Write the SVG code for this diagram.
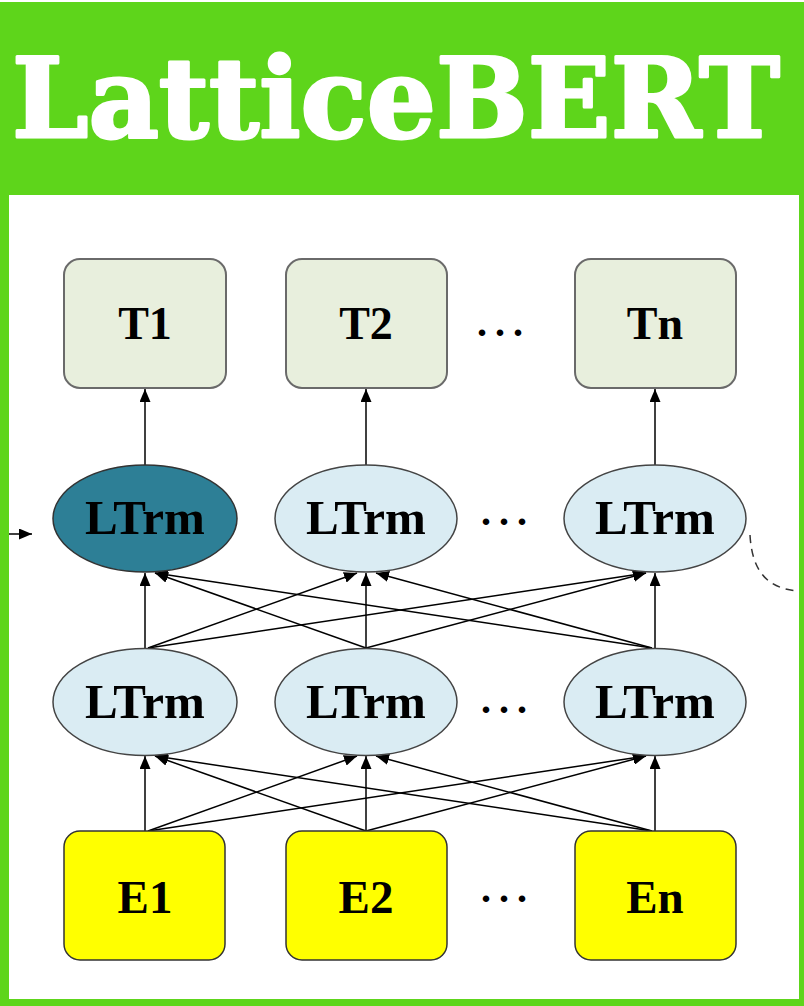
<svg xmlns="http://www.w3.org/2000/svg" width="804" height="1006" viewBox="0 0 804 1006">
<defs>
<marker id="ah" viewBox="0 0 13 11" refX="13" refY="5.5" markerWidth="13" markerHeight="11" markerUnits="userSpaceOnUse" orient="auto">
<path d="M0,0 L13,5.5 L0,11 Z" fill="#000"/>
</marker>
<style>
.lbl{font-family:"Liberation Serif","Times New Roman",serif;font-weight:bold;fill:#000;text-anchor:middle}
.tbox{fill:#E8EFDD;stroke:#6a6a6a;stroke-width:2}
.ebox{fill:#FFFF00;stroke:#333;stroke-width:1.5}
.ell{fill:#DAECF3;stroke:#444;stroke-width:1.5}
.dark{fill:#2D7F96;stroke:#333;stroke-width:1.5}
.edge{stroke:#000;stroke-width:1.5;fill:none;marker-end:url(#ah)}
.dots{font-family:"Liberation Serif",serif;font-weight:bold;font-size:40px;letter-spacing:8px;fill:#000;text-anchor:middle}
.title{font-family:"DejaVu Serif",serif;font-weight:bold;font-size:110px;fill:#fff;stroke:#fff;stroke-width:3;stroke-linejoin:round}
</style>
</defs>
<rect x="0" y="0" width="804" height="1006" fill="#fff"/>
<g id="frame">
<rect x="0" y="2" width="804" height="193" fill="#5ED51B"/>
<rect x="0" y="2" width="9" height="1004" fill="#5ED51B"/>
<rect x="799" y="2" width="5" height="1004" fill="#5ED51B"/>
<rect x="0" y="999" width="804" height="7" fill="#5ED51B"/>
<text class="title" x="12" y="137" textLength="768" lengthAdjust="spacingAndGlyphs">LatticeBERT</text>
</g>
<g id="connectors">
<line class="edge" x1="145" y1="465" x2="145" y2="389"/>
<line class="edge" x1="366" y1="465" x2="366" y2="389"/>
<line class="edge" x1="655" y1="465" x2="655" y2="389"/>
<line class="edge" x1="145" y1="648" x2="145" y2="573"/>
<line class="edge" x1="366" y1="648" x2="366" y2="573"/>
<line class="edge" x1="655" y1="648" x2="655" y2="573"/>
<line class="edge" x1="148" y1="648" x2="357" y2="573"/>
<line class="edge" x1="148" y1="648" x2="646" y2="573"/>
<line class="edge" x1="366" y1="648" x2="155" y2="573"/>
<line class="edge" x1="366" y1="648" x2="646" y2="573"/>
<line class="edge" x1="652" y1="648" x2="155" y2="573"/>
<line class="edge" x1="652" y1="648" x2="376" y2="573"/>
<line class="edge" x1="145" y1="831" x2="145" y2="756"/>
<line class="edge" x1="366" y1="831" x2="366" y2="756"/>
<line class="edge" x1="655" y1="831" x2="655" y2="756"/>
<line class="edge" x1="148" y1="831" x2="357" y2="756"/>
<line class="edge" x1="148" y1="831" x2="646" y2="756"/>
<line class="edge" x1="366" y1="831" x2="155" y2="756"/>
<line class="edge" x1="366" y1="831" x2="646" y2="756"/>
<line class="edge" x1="652" y1="831" x2="155" y2="756"/>
<line class="edge" x1="652" y1="831" x2="376" y2="756"/>
<line class="edge" x1="9" y1="534" x2="32" y2="534"/>
<path d="M750,535 C752,572 768,589 799,591" fill="none" stroke="#333" stroke-width="1.5" stroke-dasharray="8,6"/>
</g>
<g id="T1"><rect class="tbox" x="64" y="259" width="162" height="129" rx="16"/><text class="lbl" x="145" y="339" font-size="46">T1</text></g>
<g id="T2"><rect class="tbox" x="286" y="259" width="161" height="129" rx="16"/><text class="lbl" x="366" y="339" font-size="46">T2</text></g>
<g id="Tdots"><text class="dots" x="504" y="336">...</text></g>
<g id="Tn"><rect class="tbox" x="575" y="259" width="161" height="129" rx="16"/><text class="lbl" x="655" y="339" font-size="46">Tn</text></g>
<g id="L1a"><ellipse class="dark" cx="145" cy="518.5" rx="92" ry="53.5"/><text class="lbl" x="145" y="534" font-size="49">LTrm</text></g>
<g id="L1b"><ellipse class="ell" cx="366" cy="518.5" rx="91" ry="53.5"/><text class="lbl" x="366" y="534" font-size="49">LTrm</text></g>
<g id="L1dots"><text class="dots" x="508" y="525">...</text></g>
<g id="L1n"><ellipse class="ell" cx="655" cy="518.5" rx="91" ry="53.5"/><text class="lbl" x="655" y="534" font-size="49">LTrm</text></g>
<g id="L2a"><ellipse class="ell" cx="145" cy="702" rx="92" ry="53.5"/><text class="lbl" x="145" y="718" font-size="49">LTrm</text></g>
<g id="L2b"><ellipse class="ell" cx="366" cy="702" rx="91" ry="53.5"/><text class="lbl" x="366" y="718" font-size="49">LTrm</text></g>
<g id="L2dots"><text class="dots" x="508" y="713">...</text></g>
<g id="L2n"><ellipse class="ell" cx="655" cy="702" rx="91" ry="53.5"/><text class="lbl" x="655" y="718" font-size="49">LTrm</text></g>
<g id="E1"><rect class="ebox" x="64" y="831" width="161" height="129" rx="16"/><text class="lbl" x="145" y="913" font-size="47">E1</text></g>
<g id="E2"><rect class="ebox" x="286" y="831" width="161" height="129" rx="16"/><text class="lbl" x="366" y="913" font-size="47">E2</text></g>
<g id="Edots"><text class="dots" x="508" y="902">...</text></g>
<g id="En"><rect class="ebox" x="575" y="831" width="161" height="129" rx="16"/><text class="lbl" x="655" y="913" font-size="47">En</text></g>
</svg>
